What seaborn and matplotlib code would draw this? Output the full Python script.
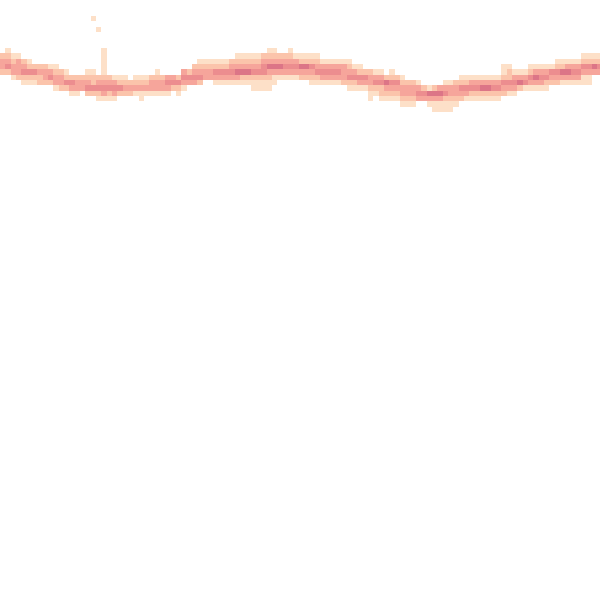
import numpy as np
import pandas as pd
import matplotlib
matplotlib.use("Agg")
import matplotlib.pyplot as plt
import seaborn as sns

# Band data: for every column (x bin), the top row (y bin) and the count levels downward
col_top = [
    10, 9, 10, 10, 11, 11, 12, 12, 12, 12,
    12, 13, 13, 14, 14, 14, 13, 13, 14, 9,
    14, 14, 14, 14, 15, 14, 14, 14, 14, 13,
    14, 14, 14, 14, 13, 13, 12, 11, 11, 11,
    11, 11, 11, 11, 10, 10, 10, 10, 10, 10,
    9, 9, 10, 10, 9, 10, 10, 10, 10, 10,
    11, 11, 11, 11, 11, 11, 12, 12, 13, 13,
    13, 13, 14, 13, 14, 14, 15, 15, 15, 16,
    16, 16, 16, 15, 15, 15, 14, 14, 14, 14,
    14, 14, 14, 14, 12, 12, 13, 13, 13, 12,
    12, 12, 12, 12, 11, 11, 11, 11, 11, 10,
    10, 10, 10,
]
col_levels = [
    "2332", "12342", "12331", "13332", "23421", "12421", "2421", "2322", "2332", "1342",
    "12331", "2332", "1242", "2431", "2331", "233", "12342", "12242", "23421", "1111123431",
    "23421", "13431", "1242", "1232", "232", "1231", "12311", "1231", "2331", "12331",
    "2331", "3431", "342", "2421", "3431", "243", "2343", "12342", "1233", "1233",
    "12431", "12431", "12431", "23431", "123531", "123521", "123521", "1234211", "1234211", "2344211",
    "12353211", "1235311", "23531", "23431", "123431", "13431", "12532", "12532", "124321", "123421",
    "13431", "13431", "13431", "13431", "13332", "123421", "13421", "12431", "2431", "233211",
    "13421", "134221", "25321", "124321", "24321", "123321", "23321", "23321", "1343", "243",
    "1531", "25311", "35311", "134211", "133211", "23321", "12432", "12431", "13421", "13421",
    "13521", "13521", "13421", "13421", "112432", "122431", "13431", "1352", "1341", "12431",
    "13531", "13431", "13421", "1432", "12432", "12531", "13531", "13431", "13431", "124311",
    "124311", "1253", "1243",
]
# isolated cells above the band
stray_col = [17, 18]
stray_row = [3, 5]
stray_level = [1, 1]

level_colors = ["#fde0c8", "#fbc4ab", "#f6a59b", "#ec8d8f", "#dc7587"]

xs, ys, ws = [], [], []
for c, (top, lev) in enumerate(zip(col_top, col_levels)):
    for k, ch in enumerate(lev):
        xs.append(c)
        ys.append(top + k)
        ws.append(int(ch))
for c, r, w in zip(stray_col, stray_row, stray_level):
    xs.append(c)
    ys.append(r)
    ws.append(w)
df = pd.DataFrame({"x": xs, "y": ys, "w": ws})

sns.set_theme(style="white")
fig = plt.figure(figsize=(6, 6), dpi=100)
ax = fig.add_axes([0, 0, 1, 1])
cmap = sns.blend_palette(level_colors, as_cmap=True)
sns.histplot(data=df, x="x", y="y", weights="w", discrete=True,
             cmap=cmap, vmin=1, vmax=5, ax=ax)
ax.set_xlim(-0.5, 112.0)
ax.set_ylim(112.0, -0.5)
ax.set_axis_off()
fig.savefig("out.png", dpi=100)
